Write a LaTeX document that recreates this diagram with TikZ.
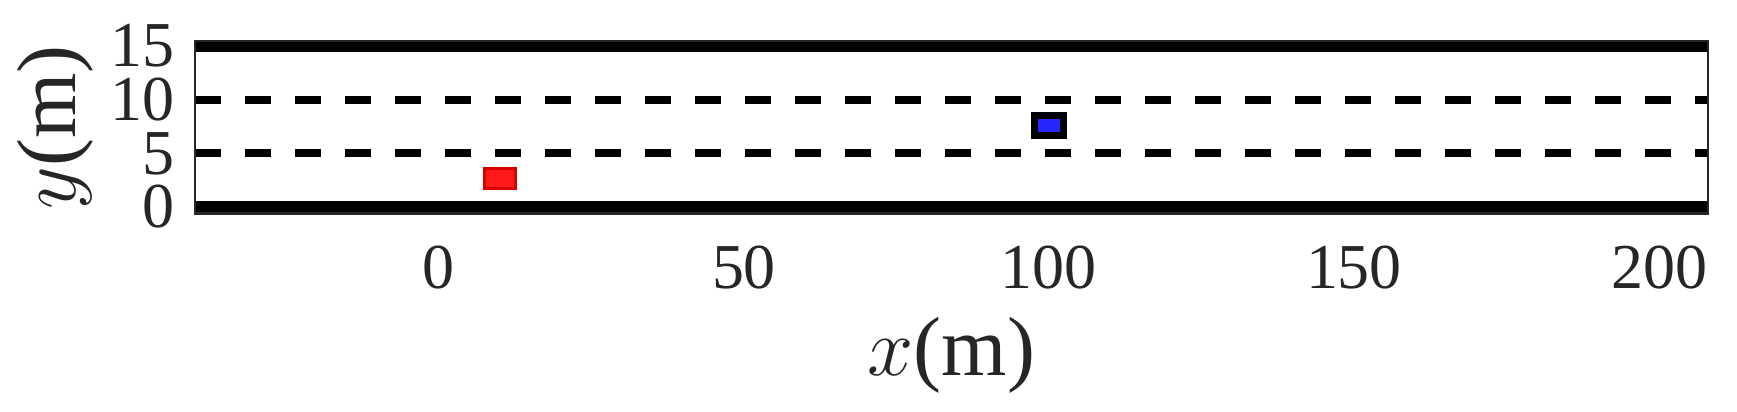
\documentclass[tikz,border=0pt]{standalone}
\usepackage{fontspec}
\setmainfont{Liberation Serif}
\begin{document}
\begin{tikzpicture}[x=1.525pt,y=2.6825pt,
  tick/.style={line width=0.6pt,draw=black!85},
  ticklab/.style={font=\fontsize{16}{16}\selectfont,text=black!85},
  axlab/.style={font=\fontsize{21}{21}\selectfont,text=black!85},
  road/.style={line width=3pt},
  lane/.style={line width=2pt,dash pattern=on 6.5pt off 6pt}]
\useasboundingbox (-109.75pt,-51pt) rectangle (324.5pt,51.75pt);
% ticks
\foreach \t in {0,50,100,150,200}{
  \draw[tick] (\t,-0.6) -- ++(0,1.8pt);
  \draw[tick] (\t,15.5) -- ++(0,-1.8pt);
  \node[ticklab,anchor=north,inner sep=0pt] (xl\t) at ([yshift=-9.5pt]\t,0) {\t};
}
\foreach \t in {0,5,10,15}{
  \draw[tick] (-40,\t) -- ++(4pt,0);
  \node[ticklab,anchor=east,inner sep=0pt] (yl\t) at ([xshift=-109.75pt+43.75pt]0,\t) {\t};
}
% road
\draw[road] (-40,0) -- (208,0);
\draw[road] (-40,15) -- (208,15);
\draw[lane] (-40,5) -- (208,5);
\draw[lane] (-40,10) -- (208,10);
% box
\draw[line width=0.6pt,draw=black!85] (-40,-0.6) rectangle (208,15.5);
% cars
\draw[draw=red!85!black,fill=red!90,line width=0.8pt] (7.4,1.7) rectangle (12.6,3.6);
\draw[draw=black,fill=blue!85,line width=1.8pt] (97.6,6.7) rectangle (102.4,8.5);
% labels
\node[axlab] (xlab) at ([yshift=-37pt]84,0) {$x$(m)};
\node[axlab,rotate=90] (ylab) at ([xshift=-96pt]0,7.4) {$y$(m)};
\end{tikzpicture}
\end{document}
